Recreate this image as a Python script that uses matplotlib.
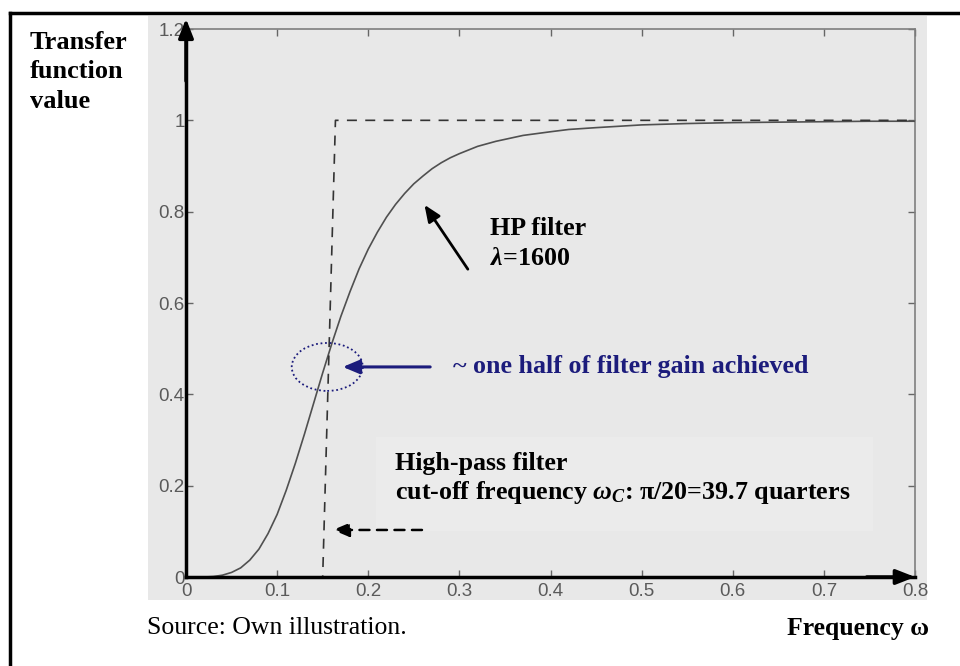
import matplotlib
matplotlib.use("Agg")
import matplotlib.pyplot as plt
from matplotlib.patches import Rectangle, Ellipse
from matplotlib.lines import Line2D

plt.rcParams['mathtext.fontset'] = 'custom'
plt.rcParams['mathtext.rm'] = 'Liberation Serif:bold'
plt.rcParams['mathtext.it'] = 'Liberation Serif:italic:bold'
plt.rcParams['mathtext.bf'] = 'Liberation Serif:bold'

# HP filter (lambda=1600) gain
freq = [0.0, 0.02, 0.03, 0.04, 0.05, 0.06, 0.07, 0.08, 0.09, 0.10,
        0.11, 0.12, 0.13, 0.14, 0.15, 0.16, 0.17, 0.18, 0.19, 0.20,
        0.21, 0.22, 0.23, 0.24, 0.25, 0.26, 0.27, 0.28, 0.29, 0.30,
        0.32, 0.34, 0.37, 0.40, 0.42, 0.45, 0.50, 0.55, 0.60, 0.65,
        0.70, 0.75, 0.80]
gain = [0.0, 0.0, 0.001, 0.004, 0.01, 0.02, 0.037, 0.061, 0.095, 0.137,
        0.19, 0.249, 0.313, 0.38, 0.447, 0.511, 0.571, 0.625, 0.675, 0.718,
        0.755, 0.788, 0.816, 0.84, 0.861, 0.878, 0.894, 0.907, 0.918, 0.927,
        0.943, 0.954, 0.967, 0.975, 0.98, 0.984, 0.99, 0.993, 0.995, 0.996,
        0.997, 0.998, 0.998]

# ideal high-pass filter
ideal_x = [0.0, 0.15, 0.164, 0.80]
ideal_y = [0.0, 0.0, 1.0, 1.0]

xticks = [0, 0.1, 0.2, 0.3, 0.4, 0.5, 0.6, 0.7, 0.8]
xlabels = ['0', '0.1', '0.2', '0.3', '0.4', '0.5', '0.6', '0.7', '0.8']
yticks = [0, 0.2, 0.4, 0.6, 0.8, 1.0, 1.2]
ylabels = ['0', '0.2', '0.4', '0.6', '0.8', '1', '1.2']

W, H = 960, 666
serif = 'Liberation Serif'
navy = '#1c1c7c'
panel = '#e8e8e8'

fig = plt.figure(figsize=(W / 100, H / 100), dpi=100)

def fx(px):
    return px / W

def fy(py):
    return 1 - py / H

# grey matlab-like panel behind the plot
fig.patches.append(Rectangle((fx(148), fy(600)), fx(927) - fx(148), fy(16) - fy(600),
                             transform=fig.transFigure, facecolor=panel,
                             edgecolor='none', zorder=-1))

# outer frame (left and top only)
fig.add_artist(Line2D([fx(10), fx(10)], [fy(13), 0], transform=fig.transFigure,
                      color='black', lw=2.5))
fig.add_artist(Line2D([fx(10), 1], [fy(13), fy(13)], transform=fig.transFigure,
                      color='black', lw=2.5))

ax = fig.add_axes([fx(186), fy(577), fx(915) - fx(186), fy(29) - fy(577)])
ax.set_facecolor(panel)
ax.set_xlim(0, 0.8)
ax.set_ylim(0, 1.2)

ax.plot(freq, gain, color='#505050', lw=1.2, zorder=3)
ax.plot(ideal_x, ideal_y, color='#333333', lw=1.2, dashes=(6, 5), zorder=3)

ax.set_xticks(xticks)
ax.set_xticklabels(xlabels)
ax.set_yticks(yticks)
ax.set_yticklabels(ylabels)
ax.tick_params(direction='in', length=5, width=1, color='#666666',
               labelcolor='#5a5a5a', labelsize=13.5, top=True, right=True)
ax.tick_params(axis='y', pad=1)
ax.tick_params(axis='x', pad=4)
for lab in ax.get_xticklabels() + ax.get_yticklabels():
    lab.set_family('Liberation Sans')

for side in ['top', 'right']:
    ax.spines[side].set_color('#7f7f7f')
    ax.spines[side].set_linewidth(1.2)
for side in ['left', 'bottom']:
    ax.spines[side].set_color('black')
    ax.spines[side].set_linewidth(2.5)
    ax.spines[side].set_zorder(4)

# axis arrows
big_head = '-|>,head_length=1.15,head_width=0.45'
ax.annotate('', xy=(0, 1.024), xytext=(0, 0.9), xycoords='axes fraction',
            arrowprops=dict(arrowstyle=big_head, color='black', lw=2.5),
            annotation_clip=False)
ax.annotate('', xy=(1.004, 0), xytext=(0.93, 0), xycoords='axes fraction',
            arrowprops=dict(arrowstyle=big_head, color='black', lw=2.5),
            annotation_clip=False)

head = '-|>,head_length=1.0,head_width=0.42'

# half-gain marker
ax.add_patch(Ellipse((0.155, 0.46), 0.078, 0.105, fill=False, edgecolor=navy,
                     linestyle=(0, (1, 1.5)), lw=1.3, zorder=5))
ax.annotate('', xy=(0.169, 0.46), xytext=(0.271, 0.46),
            arrowprops=dict(arrowstyle=head, color=navy, lw=2.2))
ax.text(0.293, 0.46, '~ one half of filter gain achieved', color=navy,
        family=serif, weight='bold', fontsize=18.7, va='center', ha='left')

# HP filter label
ax.annotate('', xy=(0.260, 0.820), xytext=(0.311, 0.669),
            arrowprops=dict(arrowstyle=head, color='black', lw=2))
ax.text(0.334, 0.763, 'HP filter', family=serif, weight='bold', fontsize=18.7,
        va='center', ha='left')
ax.text(0.334, 0.697, r'$\lambda$=1600', family=serif, weight='bold',
        fontsize=18.7, va='center', ha='left')

# cut-off label
ax.add_patch(Rectangle((0.2085, 0.10), 0.545, 0.207, facecolor='#ebebeb',
                       edgecolor='none', zorder=1))
ax.text(0.229, 0.249, 'High-pass filter', family=serif, weight='bold',
        fontsize=18.7, va='center', ha='left')
ax.text(0.229, 0.184, r'cut-off frequency $\omega_C$: π/20=39.7 quarters',
        family=serif, weight='bold', fontsize=18.7, va='center', ha='left')
ax.annotate('', xy=(0.158, 0.103), xytext=(0.262, 0.103),
            arrowprops=dict(arrowstyle=head, color='black', lw=1.8,
                            linestyle=(0, (4, 3))))

# outer texts
fig.text(fx(30), fy(31), 'Transfer\nfunction\nvalue', family=serif,
         weight='bold', fontsize=19, va='top', ha='left', linespacing=1.36)
fig.text(fx(147), fy(628), 'Source: Own illustration.', family=serif,
         fontsize=18.5, va='center', ha='left')
fig.text(fx(929), fy(628), 'Frequency ω', family=serif, weight='bold',
         fontsize=18.5, va='center', ha='right')

fig.savefig('out.png', dpi=100)
